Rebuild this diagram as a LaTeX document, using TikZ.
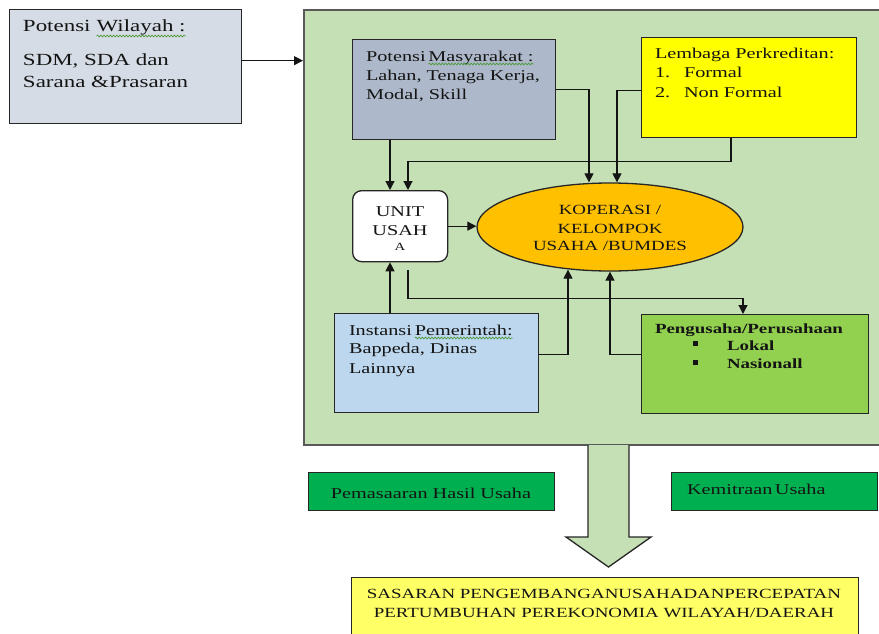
\documentclass[tikz,border=0pt]{standalone}
\usepackage{fontspec}
\setmainfont{Liberation Serif}[FakeStretch=1.35]
\usetikzlibrary{arrows.meta,shapes.geometric,decorations.pathmorphing}
\definecolor{panel}{HTML}{C5E0B4}
\definecolor{paneledge}{HTML}{595959}
\definecolor{edge}{HTML}{262626}
\definecolor{ink}{HTML}{141414}
\definecolor{wilayah}{HTML}{D6DCE5}
\definecolor{masy}{HTML}{ADB9CA}
\definecolor{kredit}{HTML}{FFFF00}
\definecolor{koperasi}{HTML}{FFC000}
\definecolor{instansi}{HTML}{BDD7EE}
\definecolor{usaha}{HTML}{92D050}
\definecolor{hijau}{HTML}{00B050}
\definecolor{sasaran}{HTML}{FFFF66}
\definecolor{spellgreen}{HTML}{4E9A3A}

% green wavy underline under a word
\newcommand\wavy[2][3pt]{\tikz[baseline=(w.base)]{\node[inner sep=0pt,outer sep=0pt] (w) {#2};
  \draw[spell] ([yshift=-#1]w.base west) -- ([yshift=-#1]w.base east);}}

\begin{document}
\begin{tikzpicture}[x=1pt,y=-1pt,
  blk/.style={draw=edge, line width=1.3pt, anchor=north west, inner sep=0pt},
  lbl/.style={anchor=base west, inner sep=0pt, outer sep=0pt, text=ink},
  clbl/.style={anchor=base, inner sep=0pt, outer sep=0pt, text=ink},
  wire/.style={draw=ink, line width=1.2pt},
  arr/.style={wire, -{Triangle[length=9pt,width=9pt]}},
  spell/.style={draw=spellgreen, line width=0.7pt, decorate,
    decoration={snake, amplitude=0.9pt, segment length=3.2pt}},
  fA/.style={font=\fontsize{17}{20}\selectfont},
  fB/.style={font=\fontsize{15}{18}\selectfont},
  fC/.style={font=\fontsize{14}{17}\selectfont},
  fD/.style={font=\fontsize{14}{17}\selectfont\bfseries}]
\useasboundingbox (0,0) rectangle (879,633);

% boxes
\node[blk, fill=wilayah, minimum width=232pt, minimum height=114pt] (lw) at (9,9) {};
\node[blk, fill=panel, draw=paneledge, line width=2pt, minimum width=600pt, minimum height=435pt] (big) at (303,9) {};
\node[blk, fill=masy, minimum width=203pt, minimum height=100pt] (pm) at (352,39) {};
\node[blk, fill=kredit, minimum width=215pt, minimum height=100pt] (lk) at (641,37) {};
\node[blk, fill=white, rounded corners=9pt, minimum width=95pt, minimum height=71pt] (unit) at (352,190) {};
\node[draw=edge, line width=1.3pt, fill=koperasi, ellipse, inner sep=0pt,
      minimum width=266pt, minimum height=88pt] (ell) at (610,227) {};
\node[blk, fill=instansi, minimum width=204pt, minimum height=99pt] (inst) at (334,313) {};
\node[blk, fill=usaha, minimum width=227pt, minimum height=99pt] (pg) at (641,314) {};
\node[blk, fill=hijau, minimum width=246pt, minimum height=38pt] (pms) at (308,472) {};
\node[blk, fill=hijau, minimum width=206pt, minimum height=38pt] (kmt) at (671,472) {};
\node[blk, fill=sasaran, minimum width=507pt, minimum height=70pt] (ssr) at (351,577) {};

% block arrow towards the target box
\filldraw[fill=panel, draw=edge, line width=1.3pt]
  (588,445) -- (588,537) -- (566,537) -- (608.5,567) -- (651,537) -- (629,537) -- (629,445);

% connectors
\coordinate (lwout) at ([yshift=6pt]lw.east);
\draw[arr] (lwout) -- (lwout -| big.west);

\coordinate (pmA) at ([xshift=38pt]pm.south west);
\coordinate (unA) at ([xshift=38pt]unit.north west);
\draw[arr] (pmA) -- (unA);

\coordinate (lkA) at ([xshift=90pt]lk.south west);
\coordinate (unB) at ([xshift=56pt]unit.north west);
\draw[arr] (lkA) -- ++(0,23) -| (unB);

\coordinate (elA) at ([xshift=-21pt]ell.north);
\draw[arr] (pm.east) -| (elA);

\coordinate (lkW) at ([yshift=-3pt]lk.west);
\coordinate (elB) at ([xshift=7pt]ell.north);
\draw[arr] (lkW) -| (elB);

\draw[arr] (unit.east) -- (unit.east -| ell.west);

\coordinate (inA) at ([xshift=56pt]inst.north west);
\coordinate (unC) at ([xshift=38pt]unit.south west);
\draw[arr] (inA) -- (unC);

\coordinate (unD) at ([xshift=56pt,yshift=-8pt]unit.south west);
\coordinate (pgA) at ([xshift=102pt]pg.north west);
\draw[arr] (unD) -- ++(0,28) -| (pgA);

\coordinate (inE) at ([yshift=8.5pt]inst.east);
\coordinate (elC) at ([xshift=-42pt,yshift=2pt]ell.south);
\draw[arr] (inE) -| (elC);

\coordinate (pgW) at ([yshift=9.5pt]pg.west);
\draw[arr] (pgW) -| (ell.south);

% texts
\node[lbl, fA] at (23,31) {Potensi \wavy[5pt]{Wilayah :}};
\node[lbl, fA] at (23,65) {SDM, SDA dan};
\node[lbl, fA] at (23,87) {Sarana \&Prasaran};

\node[lbl, fB] at (366,61) {Potensi\,\wavy{Masyarakat :}};
\node[lbl, fB] at (366,80) {Lahan, Tenaga Kerja,};
\node[lbl, fB] at (366,99) {Modal, Skill};

\node[lbl, fB] at (655,58) {Lembaga Perkreditan:};
\node[lbl, fB] at (655,77) {1.};
\node[lbl, fB] at (684,77) {Formal};
\node[lbl, fB] at (655,97) {2.};
\node[lbl, fB] at (684,97) {Non Formal};

\node[clbl, fB] at (400,216) {UNIT};
\node[clbl, fB] at (400,235) {USAH};
\node[clbl, font=\fontsize{11}{13}\selectfont] at (400,250) {A};

\node[clbl, fC] at (610,214) {KOPERASI /};
\node[clbl, fC] at (610,233) {KELOMPOK};
\node[clbl, fC] at (610,250) {USAHA /BUMDES};

\node[lbl, fB] at (349,335) {Instansi\,\wavy{Pemerintah:}};
\node[lbl, fB] at (349,353) {Bappeda, Dinas};
\node[lbl, fB] at (349,373) {Lainnya};

\node[lbl, fD] at (655,333) {Pengusaha/Perusahaan};
\fill[ink] (693,341) rectangle (698,346);
\fill[ink] (693,360) rectangle (698,365);
\node[lbl, fD] at (727,350) {Lokal};
\node[lbl, fD] at (727,368) {Nasionall};

\node[clbl, fB] at (431,498) {Pemasaaran Hasil Usaha};
\node[lbl, fB] at (687,494) {Kemitraan\,Usaha};

\node[clbl, fC] at (604,598) {SASARAN PENGEMBANGANUSAHADANPERCEPATAN};
\node[clbl, fC] at (604,617) {PERTUMBUHAN PEREKONOMIA WILAYAH/DAERAH};
\end{tikzpicture}
\end{document}
